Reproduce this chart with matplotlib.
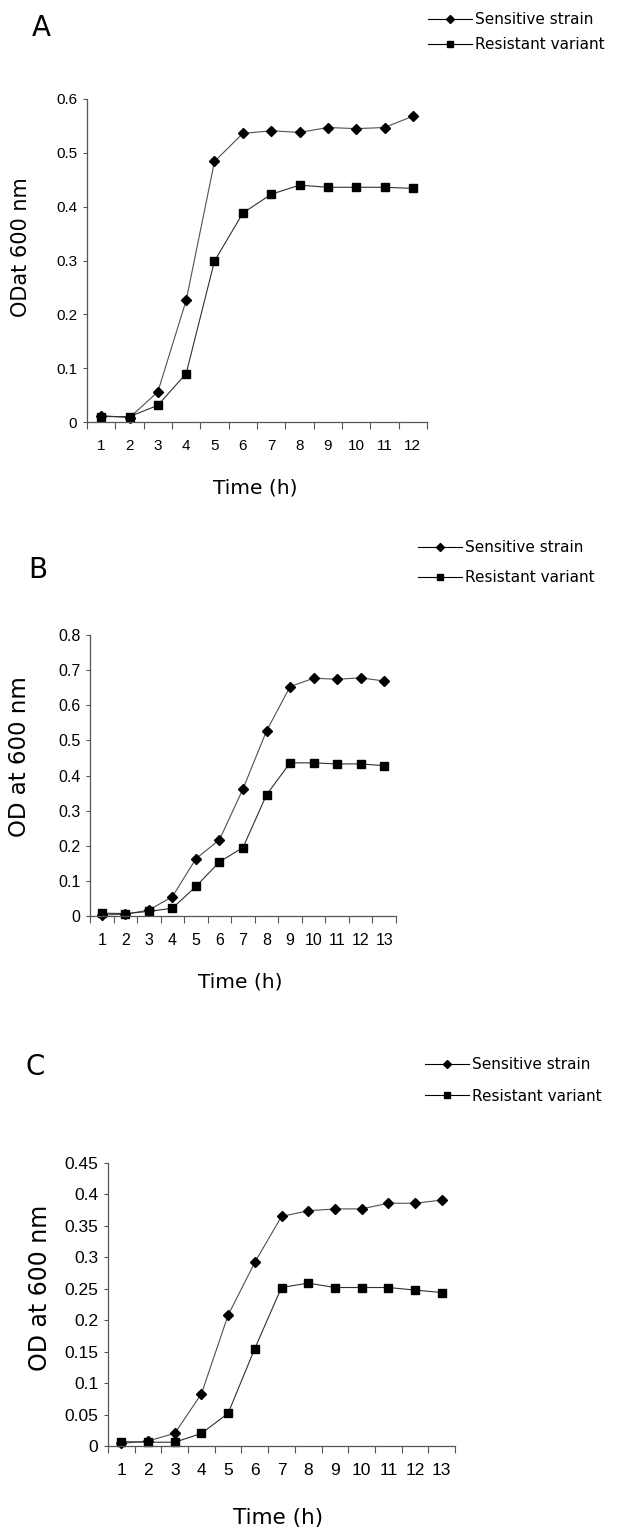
import numpy as np
import matplotlib.pyplot as plt

# --- data ---
hours_a = list(range(1, 13))
sensitive_a = [0.012, 0.008, 0.056, 0.226, 0.484, 0.536, 0.541, 0.538, 0.547, 0.545, 0.547, 0.568]
resistant_a = [0.010, 0.010, 0.031, 0.090, 0.299, 0.388, 0.423, 0.440, 0.436, 0.436, 0.436, 0.434]
yticks_a = [0, 0.1, 0.2, 0.3, 0.4, 0.5, 0.6]
ylabels_a = ['0', '0.1', '0.2', '0.3', '0.4', '0.5', '0.6']

hours_b = list(range(1, 14))
sensitive_b = [0.003, 0.005, 0.017, 0.055, 0.163, 0.217, 0.362, 0.527, 0.653, 0.677, 0.674, 0.678, 0.669]
resistant_b = [0.008, 0.007, 0.013, 0.022, 0.084, 0.154, 0.195, 0.345, 0.436, 0.436, 0.433, 0.433, 0.428]
yticks_b = [0, 0.1, 0.2, 0.3, 0.4, 0.5, 0.6, 0.7, 0.8]
ylabels_b = ['0', '0.1', '0.2', '0.3', '0.4', '0.5', '0.6', '0.7', '0.8']

hours_c = list(range(1, 14))
sensitive_c = [0.004, 0.008, 0.020, 0.083, 0.208, 0.292, 0.365, 0.374, 0.377, 0.377, 0.386, 0.386, 0.391]
resistant_c = [0.007, 0.006, 0.006, 0.020, 0.052, 0.155, 0.252, 0.259, 0.252, 0.252, 0.252, 0.248, 0.244]
yticks_c = [0, 0.05, 0.1, 0.15, 0.2, 0.25, 0.3, 0.35, 0.4, 0.45]
ylabels_c = ['0', '0.05', '0.1', '0.15', '0.2', '0.25', '0.3', '0.35', '0.4', '0.45']

series_names = ['Sensitive strain', 'Resistant variant']

W, H = 621, 1531
fig = plt.figure(figsize=(W / 100, H / 100), dpi=100)


def px(x, y):
    # pixel position -> figure fraction
    return x / W, 1 - y / H


def panel(box, hours, sens, res, yticks, ylabels, tick_fs, ylab, ylab_xy, ylab_fs,
          time_xy, time_fs, letter, letter_xy, leg_xy, leg_space):
    l, t, r, b = box
    ax = fig.add_axes([l / W, 1 - b / H, (r - l) / W, (b - t) / H])
    h1, = ax.plot(hours, sens, color='#505050', lw=0.8, marker='D', ms=5.5,
                  mfc='black', mec='black', clip_on=False)
    h2, = ax.plot(hours, res, color='#303030', lw=0.8, marker='s', ms=6,
                  mfc='black', mec='black', clip_on=False)
    n = len(hours)
    ax.set_xlim(0.5, n + 0.5)
    ax.set_ylim(yticks[0], yticks[-1])
    ax.set_yticks(yticks, labels=ylabels)
    ax.set_xticks(np.arange(0.5, n + 1, 1.0))
    ax.set_xticklabels([])
    ax.set_xticks(hours, labels=[str(h) for h in hours], minor=True)
    for s in ['top', 'right']:
        ax.spines[s].set_visible(False)
    for s in ['left', 'bottom']:
        ax.spines[s].set_color('#555555')
        ax.spines[s].set_linewidth(0.9)
    ax.tick_params(axis='x', which='major', direction='out', length=5, color='#555555')
    ax.tick_params(axis='x', which='minor', length=0, pad=12)
    ax.tick_params(axis='y', direction='out', length=3, pad=4, color='#555555')
    for lab in ax.get_xticklabels(minor=True) + ax.get_yticklabels():
        lab.set_fontfamily('Liberation Sans')
        lab.set_fontsize(tick_fs)
    ax.set_facecolor('none')

    fx, fy = px(*ylab_xy)
    fig.text(fx, fy, ylab, rotation=90, ha='center', va='center',
             fontsize=ylab_fs, family='DejaVu Sans')
    fx, fy = px(*time_xy)
    fig.text(fx, fy, 'Time (h)', ha='center', va='center',
             fontsize=time_fs, family='DejaVu Sans')
    fx, fy = px(*letter_xy)
    fig.text(fx, fy, letter, ha='center', va='center', fontsize=20, family='DejaVu Sans')
    fx, fy = px(*leg_xy)
    leg = fig.legend([h1, h2], series_names, loc='upper left', bbox_to_anchor=(fx, fy),
                     frameon=False, borderpad=0, borderaxespad=0, handlelength=2.9,
                     handletextpad=0.2, labelspacing=leg_space, markerscale=0.75,
                     prop={'family': 'DejaVu Sans', 'size': 11})
    for ln in leg.get_lines():
        ln.set_color('black')
    return ax


panel((87, 99, 427, 422), hours_a, sensitive_a, resistant_a, yticks_a, ylabels_a, 11,
      'ODat 600 nm', (21, 247), 15, (255, 488), 14.5, 'A', (41, 28), (428, 12), 0.65)

panel((90, 635, 396, 916), hours_b, sensitive_b, resistant_b, yticks_b, ylabels_b, 11.5,
      'OD at 600 nm', (20, 757), 16.5, (240, 982), 14.5, 'B', (38, 570), (418, 540), 1.0)

panel((108, 1163, 455, 1446), hours_c, sensitive_c, resistant_c, yticks_c, ylabels_c, 12.5,
      'OD at 600 nm', (40, 1288), 17, (278, 1518), 15.5, 'C', (35, 1067), (425, 1057), 1.1)

fig.savefig('out.png', dpi=100)
